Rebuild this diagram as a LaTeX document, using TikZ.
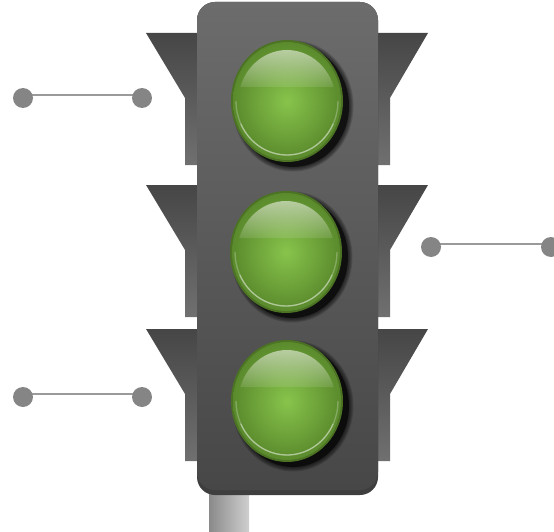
\documentclass[tikz,border=0pt]{standalone}
\usetikzlibrary{fadings}
\definecolor{dotgray}{HTML}{858585}
\definecolor{linegray}{HTML}{9A9A9A}
\definecolor{visortop}{HTML}{464646}
\definecolor{visorbot}{HTML}{707070}
\definecolor{housetop}{HTML}{6C6C6C}
\definecolor{housebot}{HTML}{474747}
\definecolor{houselip}{HTML}{3E3E3E}
\definecolor{polel}{HTML}{8A8A8A}
\definecolor{poler}{HTML}{CFCFCF}
\definecolor{lampedge}{HTML}{4B7323}
\definecolor{lampin}{HTML}{88C44C}
\definecolor{lampout}{HTML}{5A8A2C}
\definecolor{glare}{HTML}{E6ECDD}
\tikzfading[name=glarefade, top color=transparent!25, bottom color=transparent!88]
\pgfdeclarelayer{bg}
\pgfsetlayers{bg,main}
\newcommand\lamp[3]{%
  \coordinate (#1) at (#2,#3);
  \begin{scope}[shift={(#1)}]
    \fill[black,opacity=0.6] (6,5) ellipse [x radius=56, y radius=61];
    \foreach \r in {1,...,5}
      \fill[black,opacity=0.14] (6,5) ellipse [x radius=56+\r*0.9, y radius=61+\r*0.9];
    \fill[lampedge] (0,0) ellipse [x radius=56, y radius=61];
    \shade[inner color=lampin, outer color=lampout] (0,0) ellipse [x radius=54, y radius=59];
    \fill[glare, path fading=glarefade, fit fading=true]
      (-46.7,-14) arc [start angle=197.6, end angle=342.4, x radius=49, y radius=53] -- cycle;
    \draw[white, opacity=0.25, line width=1.3pt]
      (0:51 and 54) arc [start angle=0, end angle=180, x radius=51, y radius=54];
    \draw[white, opacity=0.35, line width=1.3pt]
      (25:51 and 54) arc [start angle=25, end angle=155, x radius=51, y radius=54];
  \end{scope}}
\newcommand\visorpair[1]{%
  \shade[visor] (146,#1) -- (198,#1) -- (198,#1+132) -- (185,#1+132) -- (185,#1+65) -- cycle;
  \shade[visor] (428,#1) -- (377,#1) -- (377,#1+132) -- (390,#1+132) -- (390,#1+65) -- cycle;}
\begin{document}
\begin{tikzpicture}[x=1pt,y=-1pt,
  dot/.style={circle,fill=dotgray,draw=none,minimum size=20pt,inner sep=0pt},
  wire/.style={draw=linegray,line width=2pt},
  visor/.style={top color=visortop,bottom color=visorbot,draw=none}]
\useasboundingbox (0,0) rectangle (554,532);
% pole
\shade[left color=polel,right color=poler] (209,480) rectangle (249,532);
% visors
\visorpair{33}
\visorpair{185}
\visorpair{329}
% housing
\fill[houselip] (197,2) [rounded corners=18pt] rectangle (378,495);
\shade[top color=housetop,bottom color=housebot,rounded corners=18pt] (197,2) rectangle (378,490);
% lamps
\lamp{L1}{287}{101}
\lamp{L2}{286}{252}
\lamp{L3}{287}{401}
% connectors
\node[dot] (a1) at (23,98) {};
\node[dot] (a2) at (142,98) {};
\node[dot] (b1) at (431,247) {};
\node[dot] (b2) at (551,247) {};
\node[dot] (c1) at (23,397) {};
\node[dot] (c2) at (142,397) {};
\begin{pgfonlayer}{bg}
\draw[wire] ([yshift=3pt]a1.center) -- ([yshift=3pt]a2.center);
\draw[wire] ([yshift=3pt]b1.center) -- ([yshift=3pt]b2.center);
\draw[wire] ([yshift=3pt]c1.center) -- ([yshift=3pt]c2.center);
\end{pgfonlayer}
\end{tikzpicture}
\end{document}
